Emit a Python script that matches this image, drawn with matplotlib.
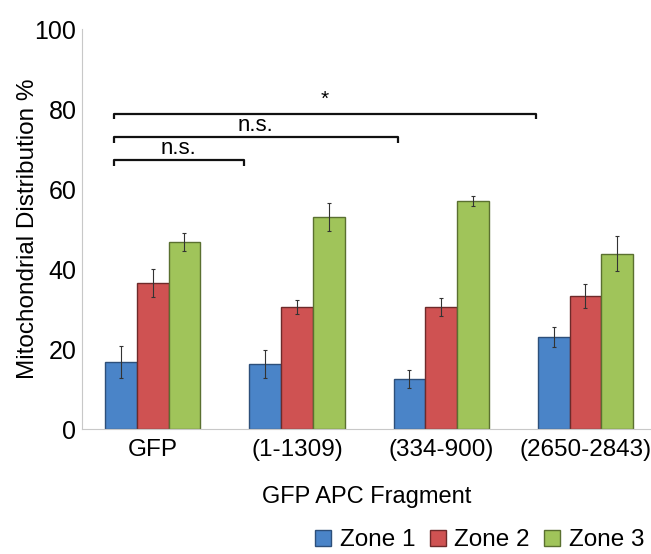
import matplotlib
matplotlib.use("Agg")
import matplotlib.pyplot as plt
import numpy as np

plt.rcParams['font.family'] = ['Liberation Sans', 'DejaVu Sans']

categories = ["GFP", "(1-1309)", "(334-900)", "(2650-2843)"]
zones = ["Zone 1", "Zone 2", "Zone 3"]
zone1 = [16.7, 16.2, 12.5, 23.0]
zone2 = [36.5, 30.5, 30.5, 33.2]
zone3 = [46.7, 53.0, 57.0, 43.8]
zone1_err = [4.0, 3.5, 2.3, 2.5]
zone2_err = [3.5, 1.8, 2.2, 3.0]
zone3_err = [2.2, 3.5, 1.2, 4.4]

colors = ["#4a84c8", "#cf5252", "#a0c45a"]
edges = ["#2d4f7a", "#6e2a2a", "#5a7030"]

# significance brackets: (left x, right x, height, label)
brackets = [(-0.27, 0.63, 67.2, "n.s."),
            (-0.27, 1.70, 73.0, "n.s."),
            (-0.27, 2.66, 78.8, "*")]

fig = plt.figure(figsize=(6.51, 5.54), dpi=100)
ax = fig.add_axes([0.126, 0.2256, 0.874, 0.722])

x = np.arange(len(categories))
w = 0.22
series = [zone1, zone2, zone3]
errs = [zone1_err, zone2_err, zone3_err]
handles = []
for i, (vals, e) in enumerate(zip(series, errs)):
    b = ax.bar(x + (i - 1) * w, vals, w, color=colors[i], edgecolor=edges[i],
               linewidth=1.0, label=zones[i], zorder=2)
    ax.errorbar(x + (i - 1) * w, vals, yerr=e, fmt='none', ecolor='#333333',
                elinewidth=0.8, capsize=1.5, capthick=0.8, zorder=3)
    handles.append(b)

for x0, x1, h, lab in brackets:
    ax.plot([x0, x0, x1, x1], [h - 1.4, h, h, h - 1.4], color='#111111', lw=1.6,
            clip_on=False, zorder=4, solid_capstyle='butt')
    if lab == "*":
        ax.text((x0 + x1) / 2, h + 1.2, lab, ha='center', va='bottom', fontsize=15)
    else:
        ax.text((x0 + x1) / 2, h + 0.2, lab, ha='center', va='bottom', fontsize=16)

ax.set_xlim(-0.49, 3.455)
ax.set_ylim(0, 100)
ax.set_yticks([0, 20, 40, 60, 80, 100])
ax.set_xticks(x)
ax.set_xticklabels(categories, fontsize=17.5)
ax.tick_params(axis='y', labelsize=18, length=0, pad=4)
ax.tick_params(axis='x', length=0, pad=7)
for s in ['top', 'right']:
    ax.spines[s].set_visible(False)
ax.spines['left'].set_color('#c8c8c8')
ax.spines['bottom'].set_color('#c8c8c8')
ax.set_ylabel("Mitochondrial Distribution %", fontsize=17.5, labelpad=-3)
ax.set_xlabel("GFP APC Fragment", fontsize=17, labelpad=18)

fig.legend(handles=handles, labels=zones, loc='center', bbox_to_anchor=(0.737, 0.025),
           ncol=3, frameon=False, fontsize=17.5, handlelength=0.65, handleheight=0.65,
           handletextpad=0.35, columnspacing=0.6, borderpad=0, borderaxespad=0)

fig.savefig("out.png", dpi=100)
